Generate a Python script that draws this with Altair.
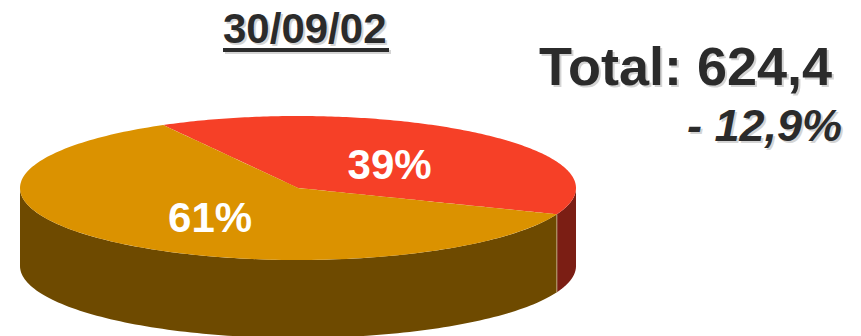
import numpy as np
import pandas as pd
import altair as alt

# Slice data
slices = ["Rojo", "Naranja"]
shares = [39, 61]
top_colors = ["#F64027", "#DB9200"]
wall_colors = ["#7B1E14", "#6E4A00"]

# Header texts
title_text = "30/09/02"
total_text = "Total: 624,4"
change_text = "- 12,9%"

# Layout of the tilted pie, in pixels
W, H = 861, 336
CX, CY = 298, 188
RX, RY = 278, 72
DEPTH = 78 / RY
START_DEG = -29.0
LABEL_RADIUS = [0.5, 0.48]
FONT = "Liberation Sans"
INK = "#2B2B2B"
SHADOW = "#D4D4D4"


def unit_xy(deg):
    a = np.radians(deg)
    return np.sin(a), -np.cos(a)


def wedge_band(a0, a1):
    """Upper and lower outline of one slice's top face, sampled along x."""
    angles = np.linspace(a0, a1, 181)
    px, py = unit_xy(angles)
    px = np.concatenate([[0.0], px])
    py = np.concatenate([[0.0], py])
    xs = np.unique(np.round(px, 9))
    rows = []
    for x in xs:
        hits = []
        for i in range(len(px)):
            j = (i + 1) % len(px)
            lo, hi = sorted((px[i], px[j]))
            if lo - 1e-8 <= x <= hi + 1e-8:
                if hi - lo < 1e-9:
                    hits += [py[i], py[j]]
                else:
                    hits.append(py[i] + (x - px[i]) / (px[j] - px[i]) * (py[j] - py[i]))
        rows.append({"x": float(x), "y": float(min(hits)), "y2": float(max(hits))})
    return rows


def wall_band(a0, a1):
    """Front wall of one slice: only the part facing the viewer is drawn."""
    lo, hi = max(a0, 90), min(a1, 270)
    if hi <= lo:
        return []
    x, y = unit_xy(np.linspace(lo, hi, 121))
    rows = [{"x": float(a), "y": float(b), "y2": float(b + DEPTH)} for a, b in zip(x, y)]
    return sorted(rows, key=lambda r: r["x"])


x_scale = alt.Scale(domain=[-CX / RX, (W - CX) / RX], nice=False, zero=False)
y_scale = alt.Scale(domain=[-CY / RY, (H - CY) / RY], nice=False, zero=False, reverse=True)
x_enc = alt.X("x:Q", scale=x_scale, axis=None)
y_enc = alt.Y("y:Q", scale=y_scale, axis=None, stack=None)


def face(rows, color):
    return (
        alt.Chart(alt.Data(values=rows))
        .mark_area(interpolate="linear", color=color, orient="vertical")
        .encode(x=x_enc, y=y_enc, y2="y2:Q")
    )


edges = START_DEG + np.concatenate([[0], np.cumsum(shares)]) * 3.6
layers_wall, layers_top, label_rows = [], [], []
for i in range(len(slices)):
    a0, a1 = float(edges[i]), float(edges[i + 1])
    layers_top.append(face(wedge_band(a0, a1), top_colors[i]))
    layers_wall.append(face(wall_band(a0, a1), wall_colors[i]))
    lx, ly = unit_xy((a0 + a1) / 2)
    r = LABEL_RADIUS[i]
    label_rows.append({"label": f"{shares[i]}%", "x": float(r * lx), "y": float(r * ly)})

# Pale seam where the two slices' walls meet
seam_x, seam_y = unit_xy(edges[1])
seam = (
    alt.Chart(alt.Data(values=[{"x": float(seam_x), "y": float(seam_y), "y2": float(seam_y + DEPTH)}]))
    .mark_rule(color="#B9A07A", strokeWidth=1)
    .encode(x=x_enc, y=y_enc, y2="y2:Q")
)

labels = (
    alt.Chart(alt.Data(values=label_rows))
    .mark_text(font=FONT, fontWeight="bold", fontSize=42, color="white", baseline="middle", dy=5)
    .encode(x=x_enc, y=y_enc, text="label:N")
)


def caption(text, px, py, size, align="left", italic=False):
    """Text with a soft grey drop shadow behind it."""
    style = dict(font=FONT, fontWeight="bold", fontSize=size, align=align, baseline="alphabetic")
    if italic:
        style["fontStyle"] = "italic"
    frame = pd.DataFrame({"t": [text]})
    shadow = alt.Chart(frame).mark_text(color=SHADOW, **style).encode(
        x=alt.value(px + 2), y=alt.value(py + 2), text="t:N"
    )
    ink = alt.Chart(frame).mark_text(color=INK, **style).encode(
        x=alt.value(px), y=alt.value(py), text="t:N"
    )
    return shadow + ink


def underline(x0, x1, py, color):
    return (
        alt.Chart(pd.DataFrame({"k": [0]}))
        .mark_rule(color=color, strokeWidth=4)
        .encode(x=alt.value(x0), x2=alt.value(x1), y=alt.value(py))
    )


chart = (
    alt.layer(
        *layers_wall,
        seam,
        *layers_top,
        labels,
        underline(225, 391, 52, SHADOW),
        underline(223, 389, 50, INK),
        caption(title_text, 223, 43, 42),
        caption(total_text, 539, 85, 54),
        caption(change_text, 842, 141, 45, align="right", italic=True),
    )
    .properties(width=W, height=H, padding=0, autosize=alt.AutoSizeParams(type="none"))
    .configure_view(stroke=None)
)

chart.save("out.html", embed_options={"renderer": "svg", "actions": False})
